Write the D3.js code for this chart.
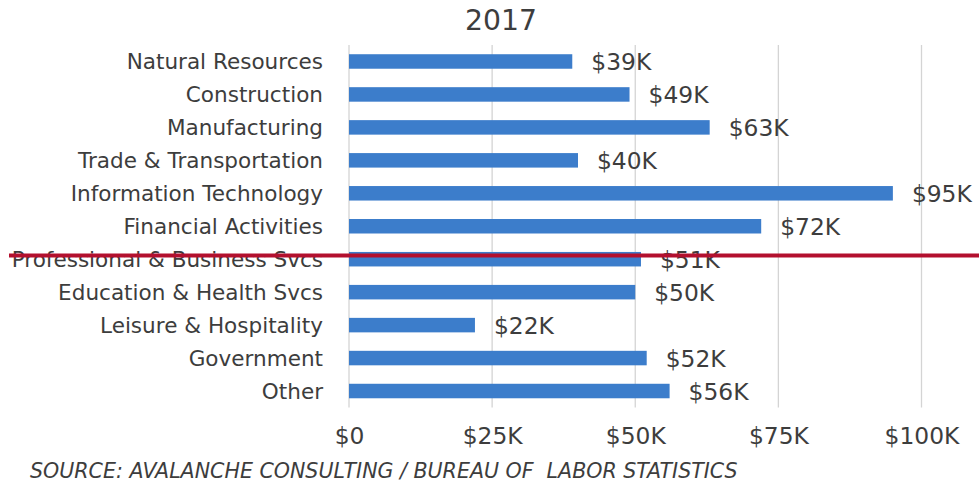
<!DOCTYPE html>
<html>
<head>
<meta charset="utf-8">
<script src="https://cdn.jsdelivr.net/npm/d3@7"></script>
<style>
  html, body { margin: 0; padding: 0; background: #ffffff; }
  svg { display: block; }
</style>
</head>
<body>
<svg id="chart" width="979" height="484"></svg>
<script>
// Average annual wages by industry, 2017
const title = "2017";
const categories = [
  "Natural Resources",
  "Construction",
  "Manufacturing",
  "Trade & Transportation",
  "Information Technology",
  "Financial Activities",
  "Professional & Business Svcs",
  "Education & Health Svcs",
  "Leisure & Hospitality",
  "Government",
  "Other"
];
const wagesK = [39, 49, 63, 40, 95, 72, 51, 50, 22, 52, 56];
const tickValuesK = [0, 25, 50, 75, 100];
const tickLabels = ["$0", "$25K", "$50K", "$75K", "$100K"];
const sourceNote = "SOURCE: AVALANCHE CONSULTING / BUREAU OF  LABOR STATISTICS";

const FONT = "'DejaVu Sans', 'Noto Sans', sans-serif";
const TEXT = "#3d3d3d";
const BAR = "#3c7dcb";
const GRID = "#d4d4d4";
const RULE = "#b3102e";

const svg = d3.select("#chart");

const x = d3.scaleLinear().domain([0, 100]).range([349, 921.5]);
const y = d3.scaleBand()
  .domain(categories)
  .range([45, 407.5])
  .paddingInner(0.56)
  .paddingOuter(0.28);

// Scale a text element's font size so its rendered width hits a target.
function fitWidth(sel, baseSize, targetWidth) {
  sel.attr("font-size", baseSize);
  const w = sel.node().getComputedTextLength();
  const size = baseSize * targetWidth / w;
  sel.attr("font-size", size);
  return size;
}

// Font size that best balances several label widths at once.
function fitAverage(pairs, baseSize) {
  const probe = svg.append("text").attr("font-family", FONT).attr("font-size", baseSize);
  const ratios = pairs.map(([s, target]) => {
    probe.text(s);
    return target / probe.node().getComputedTextLength();
  });
  probe.remove();
  return baseSize * d3.mean(ratios);
}

// Title
const t = svg.append("text")
  .attr("x", 501).attr("y", 30)
  .attr("text-anchor", "middle")
  .attr("font-family", FONT)
  .attr("fill", TEXT)
  .text(title);
fitWidth(t, 26, 72);

// Vertical gridlines (including the zero axis)
svg.append("g")
  .selectAll("line")
  .data(tickValuesK)
  .join("line")
  .attr("x1", d => x(d)).attr("x2", d => x(d))
  .attr("y1", 45).attr("y2", 407.5)
  .attr("stroke", GRID)
  .attr("stroke-width", 1.3);

// Bars
svg.append("g")
  .selectAll("rect")
  .data(categories)
  .join("rect")
  .attr("x", x(0))
  .attr("y", d => y(d))
  .attr("width", (d, i) => x(wagesK[i]) - x(0))
  .attr("height", y.bandwidth())
  .attr("fill", BAR);

// Category labels
const catSize = fitAverage([
  ["Natural Resources", 198],
  ["Information Technology", 253],
  ["Trade & Transportation", 255],
  ["Professional & Business Svcs", 296]
], 18);

svg.append("g")
  .selectAll("text")
  .data(categories)
  .join("text")
  .attr("x", 323)
  .attr("y", d => y(d) + y.bandwidth() / 2)
  .attr("dy", "0.36em")
  .attr("text-anchor", "end")
  .attr("font-family", FONT)
  .attr("font-size", catSize)
  .attr("fill", TEXT)
  .text(d => d);

// Value labels
const valSize = fitAverage([["$39K", 60], ["$95K", 60]], 18);

svg.append("g")
  .selectAll("text")
  .data(categories)
  .join("text")
  .attr("x", (d, i) => x(wagesK[i]) + 19)
  .attr("y", d => y(d) + y.bandwidth() / 2)
  .attr("dy", "0.38em")
  .attr("font-family", FONT)
  .attr("font-size", valSize)
  .attr("fill", TEXT)
  .text((d, i) => "$" + wagesK[i] + "K");

// X axis tick labels
const xAxis = d3.axisBottom(x)
  .tickValues(tickValuesK)
  .tickFormat((d, i) => tickLabels[i])
  .tickSize(0)
  .tickPadding(0);
const axisG = svg.append("g")
  .attr("transform", "translate(0,423)")
  .call(xAxis);
axisG.select(".domain").remove();
axisG.selectAll("text")
  .attr("font-family", FONT)
  .attr("font-size", valSize)
  .attr("fill", TEXT)
  .attr("dy", "0.9em");

// Source note
const src = svg.append("text")
  .attr("x", 30).attr("y", 478)
  .attr("font-family", FONT)
  .attr("font-style", "italic")
  .attr("fill", TEXT)
  .style("white-space", "pre")
  .text(sourceNote);
fitWidth(src, 16, 708);

// Red horizontal rule across the chart
svg.append("line")
  .attr("x1", 9).attr("x2", 979)
  .attr("y1", 255.5).attr("y2", 255.5)
  .attr("stroke", RULE)
  .attr("stroke-width", 4);
</script>
</body>
</html>
